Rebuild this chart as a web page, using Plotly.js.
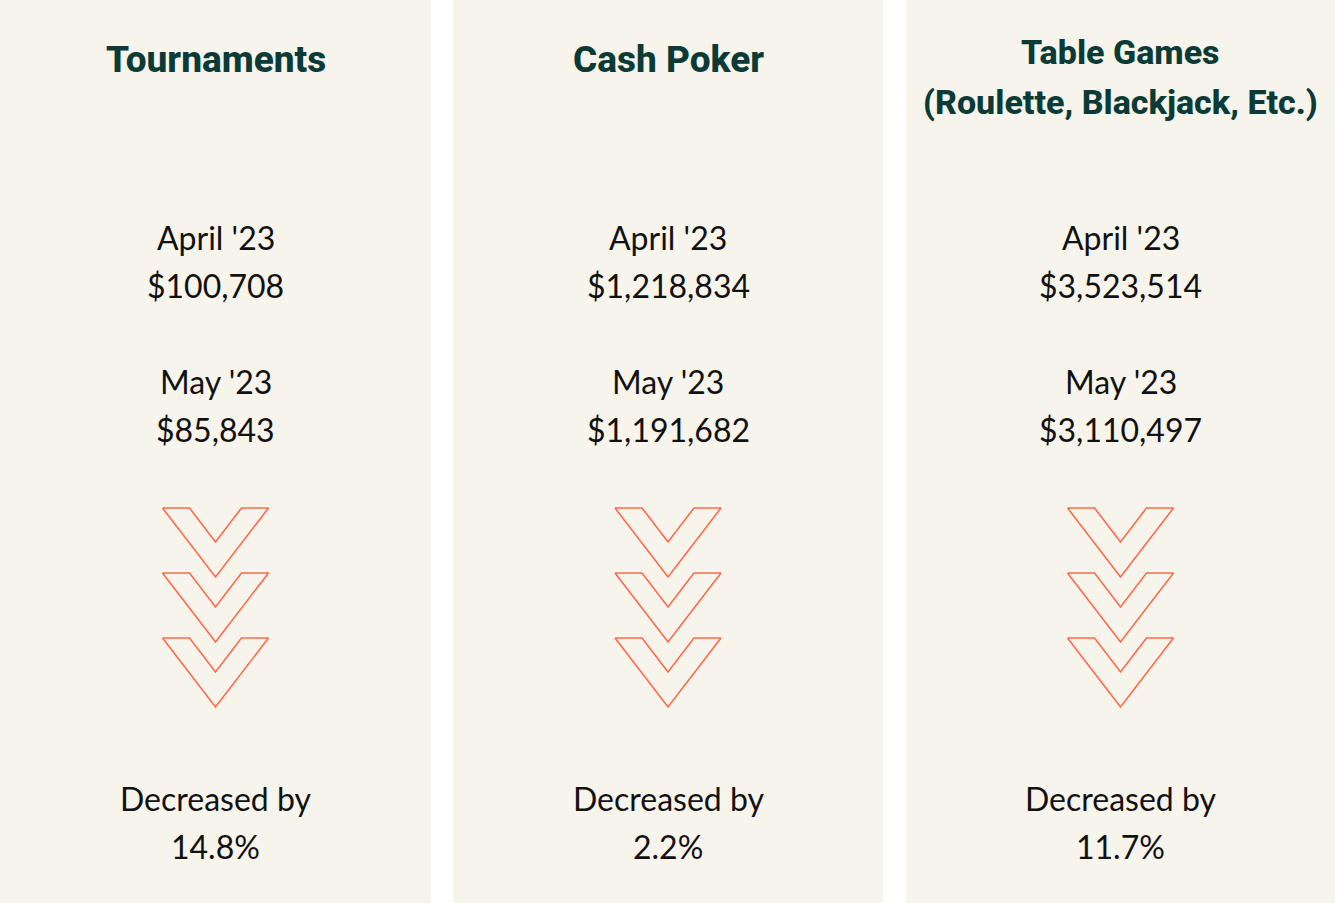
<!DOCTYPE html>
<html>
<head>
<meta charset="utf-8">
<script src="https://cdn.plot.ly/plotly-3.0.1.min.js"></script>
<style>html,body{margin:0;padding:0;background:#ffffff;}#chart{width:1335px;height:903px;}</style>
</head>
<body>
<div id="chart"></div>
<script>
// ---- data ----
const categories = ["Tournaments", "Cash Poker", "Table Games<br>(Roulette, Blackjack, Etc.)"];
const aprilLabel = "April '23";
const mayLabel = "May '23";
const aprilValues = [100708, 1218834, 3523514];
const mayValues = [85843, 1191682, 3110497];
const changeLabel = "Decreased by";
const changePct = [14.8, 2.2, 11.7];

// ---- layout constants (pixel-like axis units) ----
const W = 1335, H = 903;
const panelX0 = [0, 453, 906];
const panelX1 = [431, 883, 1335];
const bg = "#f7f4ec";
const titleColor = "#0b3b36";
const arrowColor = "#ff6a4d";
const fmt = v => "$" + v.toLocaleString("en-US");

const shapes = [];
const annotations = [];
const traces = [];

categories.forEach((cat, i) => {
  const cx = (panelX0[i] + panelX1[i]) / 2;
  shapes.push({type: "rect", xref: "x", yref: "y", x0: panelX0[i], x1: panelX1[i], y0: 0, y1: H,
    fillcolor: bg, line: {width: 0}, layer: "below"});
  const lines = cat.split("<br>");
  const ys = lines.length > 1 ? [52, 102] : [59];
  const size = lines.length > 1 ? 34 : 37;
  lines.forEach((ln, k) => {
    annotations.push({x: cx, y: ys[k], xref: "x", yref: "y", text: ln,
      showarrow: false, xanchor: "center", yanchor: "middle",
      font: {family: "Roboto", size: size, weight: 800, color: titleColor}, align: "center"});
  });
  const body = (t, y) => annotations.push({x: cx, y: y, xref: "x", yref: "y", text: t, showarrow: false,
    xanchor: "center", yanchor: "middle", font: {family: "Lato", size: 32, color: "#111111"}});
  body(aprilLabel, 237);
  body(fmt(aprilValues[i]), 285);
  body(mayLabel, 381);
  body(fmt(mayValues[i]), 429);
  body(changeLabel, 798);
  body(changePct[i].toFixed(1) + "%", 846);

  // chevrons (decorative)
  [508, 573, 638].forEach(top => {
    const xs = [-53, -26, 0, 26, 53, 0, -53].map(d => cx + d);
    const ys2 = [0, 0, 34, 0, 0, 69, 0].map(d => top + d);
    traces.push({x: xs, y: ys2, type: "scatter", mode: "lines", hoverinfo: "skip",
      line: {color: arrowColor, width: 1.6}, showlegend: false});
  });
});

const layout = {
  width: W, height: H,
  margin: {l: 0, r: 0, t: 0, b: 0},
  paper_bgcolor: "#ffffff", plot_bgcolor: "#ffffff",
  xaxis: {range: [0, W], visible: false, fixedrange: true},
  yaxis: {range: [H, 0], visible: false, fixedrange: true},
  shapes: shapes, annotations: annotations, showlegend: false
};
Plotly.newPlot("chart", traces, layout, {displayModeBar: false, staticPlot: true});
</script>
</body>
</html>
